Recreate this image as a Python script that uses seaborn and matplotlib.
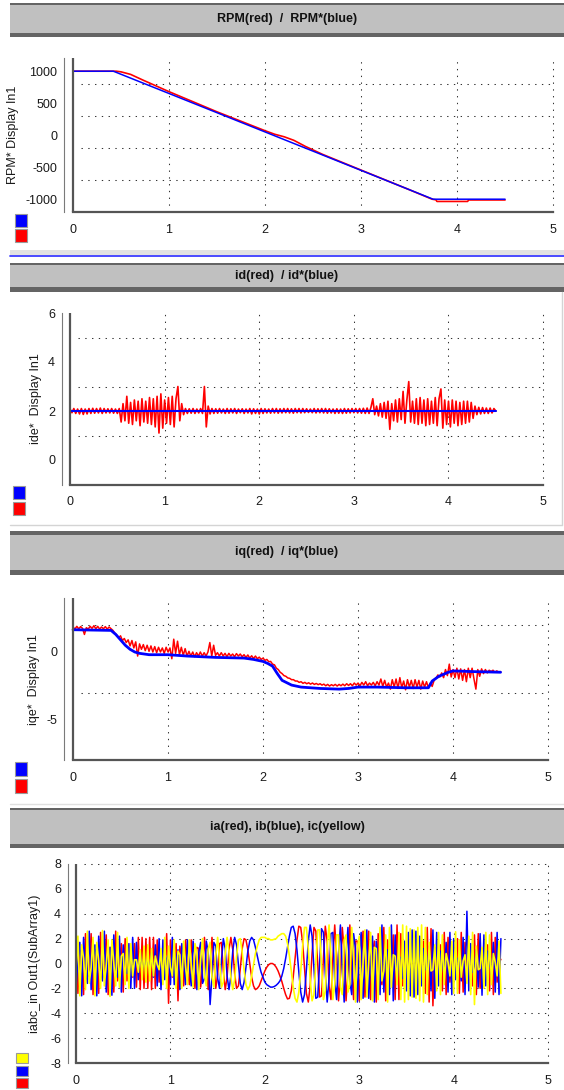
import numpy as np
import matplotlib
matplotlib.use("Agg")
import matplotlib.pyplot as plt
from matplotlib.patches import Rectangle
from matplotlib.lines import Line2D
from matplotlib.ticker import MultipleLocator, FixedLocator
import seaborn as sns

sns.set_style("white")
plt.rcParams["font.family"] = ["Liberation Sans", "DejaVu Sans"]
plt.rcParams["axes.unicode_minus"] = False

# ---------------- data ----------------
# Panel 1: speed (RPM measured red, RPM* reference blue)
rpm_ref_t = [0.0, 0.42, 3.75, 4.5]
rpm_ref_v = [1000, 1000, -1000, -1000]
rpm_t = [0.0, 0.45, 0.5, 0.6, 0.73, 0.85, 1.0, 1.5, 2.0, 2.1, 2.2, 2.3, 2.42, 2.6,
         3.0, 3.5, 3.74, 3.78, 3.79, 4.11, 4.12, 4.5]
rpm_v = [1000, 1000, 990, 950, 860, 780, 680, 365, 70, 15, -25, -80, -175, -300,
         -545, -850, -1000, -1010, -1035, -1035, -1012, -1012]

# sampled signals: one value every sample_dt seconds starting at t = 0
sample_dt = 0.02

# Panel 2: d-axis current
id_ref_t = [0.0, 4.5]
id_ref_v = [2.0, 2.0]
id_meas = [
    2.08, 1.93, 2.1, 1.9, 2.08, 1.88, 2.1, 1.86, 2.08, 1.88,
    2.1, 1.9, 2.11, 1.91, 2.1, 1.92, 2.12, 1.9, 2.1, 1.92,
    2.09, 1.92, 2.1, 1.91, 2.08, 1.9, 2.1, 1.55, 2.3, 1.6,
    2.6, 1.5, 2.35, 1.45, 2.45, 1.6, 2.4, 1.4, 2.5, 1.55,
    2.4, 1.5, 2.55, 1.45, 2.5, 1.35, 2.6, 1.1, 2.7, 1.3,
    2.45, 1.5, 2.55, 1.45, 2.6, 1.35, 2.5, 3.0, 1.6, 2.3,
    1.85, 2.1, 1.9, 2.09, 1.91, 2.1, 1.9, 2.08, 1.92, 2.1,
    1.9, 3.0, 1.35, 2.2, 1.88, 2.1, 1.9, 2.09, 1.91, 2.1,
    1.92, 2.08, 1.9, 2.1, 1.91, 2.09, 1.92, 2.1, 1.9, 2.08,
    1.93, 2.09, 1.9, 2.08, 1.92, 2.1, 1.88, 2.09, 1.9, 2.08,
    1.88, 2.1, 1.9, 2.09, 1.92, 2.08, 1.91, 2.1, 1.92, 2.1,
    1.91, 2.09, 1.92, 2.1, 1.93, 2.1, 1.92, 2.09, 1.91, 2.1,
    1.93, 2.1, 1.92, 2.1, 1.93, 2.09, 1.94, 2.08, 1.93, 2.1,
    1.92, 2.09, 1.93, 2.1, 1.92, 2.1, 1.91, 2.09, 1.92, 2.08,
    1.9, 2.09, 1.91, 2.08, 1.9, 2.1, 1.91, 2.09, 1.92, 2.1,
    1.93, 2.1, 1.92, 2.1, 1.91, 2.11, 1.9, 2.12, 1.9, 2.14,
    2.5, 1.85, 2.2, 1.8, 2.3, 1.75, 2.35, 1.7, 2.4, 1.25,
    2.3, 1.6, 2.45, 1.55, 2.5, 1.65, 2.8, 1.5, 2.45, 3.2,
    1.55, 2.4, 1.5, 2.5, 1.45, 2.55, 1.5, 2.45, 1.4, 2.5,
    1.45, 2.4, 1.5, 2.55, 1.4, 2.5, 2.9, 1.3, 2.45, 1.45,
    2.4, 1.35, 2.45, 1.5, 2.4, 1.4, 2.35, 1.45, 2.4, 1.5,
    2.4, 1.55, 2.35, 1.7, 2.2, 1.85, 2.15, 1.88, 2.14, 1.9,
    2.12, 1.9, 2.12, 1.92, 2.1, 2.0,
]

# Panel 3: q-axis current
iq_ref_t = [0.0, 0.4, 0.45, 0.5, 0.55, 0.6, 0.65, 0.7, 0.8, 1.0, 1.2, 1.5, 1.8, 1.9,
            2.0, 2.05, 2.1, 2.15, 2.2, 2.3, 2.4, 2.6, 2.8, 2.9, 3.0, 3.2, 3.5, 3.74,
            3.78, 3.85, 3.95, 4.0, 4.2, 4.5]
iq_ref_v = [1.65, 1.6, 1.3, 0.9, 0.5, 0.2, 0.0, -0.1, -0.2, -0.2, -0.3, -0.4, -0.45, -0.55,
            -0.7, -0.85, -1.05, -1.6, -2.1, -2.45, -2.6, -2.7, -2.75, -2.7, -2.6, -2.6, -2.65, -2.65,
            -2.15, -1.8, -1.5, -1.4, -1.45, -1.5]
iq_meas = [
    1.85, 1.7, 1.9, 1.72, 1.88, 1.75, 1.3, 1.8, 1.7, 1.9,
    1.75, 1.95, 1.72, 1.9, 1.7, 1.85, 1.72, 1.88, 1.7, 1.85,
    1.72, 1.6, 1.4, 1.25, 1.05, 1.2, 0.85, 1.0, 0.7, 0.9,
    0.45, 0.85, 0.3, 0.75, -0.3, 0.6, 0.2, 0.55, 0.1, 0.5,
    0.05, 0.45, 0.0, 0.4, -0.05, 0.35, 0.0, 0.3, -0.1, 0.35,
    0.0, 0.3, -0.5, 0.95, -0.1, 0.8, -0.2, 0.35, -0.25, 0.25,
    -0.3, 0.05, -0.3, 0.0, -0.35, -0.05, -0.3, 0.0, -0.3, -0.05,
    -0.3, 0.0, 0.7, -0.3, 0.5, -0.25, -0.05, -0.3, -0.05, -0.3,
    -0.1, -0.35, -0.1, -0.3, -0.15, -0.35, -0.12, -0.3, -0.15, -0.35,
    -0.2, -0.4, -0.22, -0.45, -0.28, -0.48, -0.3, -0.5, -0.38, -0.55,
    -0.45, -0.62, -0.55, -0.72, -0.7, -0.9, -0.95, -1.2, -1.3, -1.5,
    -1.6, -1.75, -1.8, -1.92, -1.95, -2.05, -2.05, -2.15, -2.15, -2.25,
    -2.2, -2.32, -2.25, -2.35, -2.28, -2.38, -2.3, -2.4, -2.33, -2.42,
    -2.35, -2.45, -2.38, -2.5, -2.4, -2.52, -2.42, -2.5, -2.4, -2.52,
    -2.4, -2.5, -2.38, -2.5, -2.35, -2.48, -2.35, -2.5, -2.3, -2.45,
    -2.3, -2.5, -2.25, -2.45, -2.2, -2.5, -2.3, -2.45, -2.25, -2.5,
    -2.2, -2.45, -2.0, -2.55, -2.1, -2.6, -2.3, -2.75, -2.05, -2.6,
    -2.0, -2.7, -1.9, -2.65, -2.15, -2.8, -2.05, -2.6, -2.1, -2.7,
    -2.05, -2.6, -2.1, -2.75, -2.15, -2.6, -2.2, -2.65, -2.3, -2.55,
    -2.1, -1.95, -1.7, -1.85, -1.55, -1.9, -1.3, -1.75, -0.9, -1.85,
    -1.3, -1.9, -1.2, -2.0, -1.25, -2.1, -1.3, -2.2, -1.2, -1.9,
    -1.2, -2.0, -2.75, -1.3, -1.8, -1.25, -1.6, -1.3, -1.55, -1.35,
    -1.45, -1.35, -1.5, -1.4, -1.5, -1.45,
]

# Panel 4: phase currents ia (red), ib (blue), ic (yellow)
ia = [
    2.5, -2.4, 0.9, 1.1, -2.5, 2.4, -1.0, -1.0, 2.4, -2.5,
    1.1, 0.9, -2.4, 2.5, -1.2, -0.8, 2.3, -2.5, 1.3, 0.7,
    -2.3, 2.6, -1.4, -0.3, 1.6, -2.3, 2.0, -1.4, 0.4, 0.4,
    -1.1, 1.6, -1.9, 2.1, -2.1, 2.1, -2.0, 2.0, -2.0, 2.1,
    -2.1, 2.1, -2.0, 1.9, -1.5, 0.9, -0.1, -0.8, 2.4, -3.2,
    1.9, -1.1, -0.3, 1.6, -3.0, 1.4, 0.3, -1.8, 1.9, -0.3,
    -1.7, 1.9, 0.1, -2.0, 1.3, 1.2, -1.9, -0.4, 2.1, 0.0,
    -2.1, 0.1, 2.1, 0.2, -2.0, -0.9, 1.6, 1.7, -0.6, -2.1,
    -1.1, 1.1, 2.1, 1.1, -0.8, -2.0, -1.8, -0.4, 1.2, 2.0,
    1.9, 1.1, 0.0, -1.1, -1.8, -2.1, -2.0, -1.8, -1.4, -1.0,
    -0.6, -0.3, -0.1, 0.0, 0.0, -0.1, -0.3, -0.6, -1.0, -1.45,
    -2.0, -2.5, -2.85, -2.8, -2.2, -1.1, 0.4, 1.9, 3.0, 2.9,
    1.7, -0.4, -2.4, -3.1, -1.8, 0.8, 2.9, 2.6, 0.0, -2.7,
    -2.6, 0.4, 3.0, 1.8, -1.8, -2.9, 0.4, 3.1, 0.6, -3.0,
    -1.1, 2.9, 1.1, -3.0, -0.6, 3.1, -0.4, -2.9, 1.8, 1.8,
    -3.0, 0.4, 2.6, -2.7, 0.0, 2.6, -2.9, 0.8, 1.8, -3.1,
    2.4, -0.4, -1.7, 2.9, -3.0, 1.9, -0.4, -1.1, 2.3, -2.9,
    3.1, -2.9, 2.4, -1.8, 1.3, -0.8, 0.4, -0.1, 0.0, 0.0,
    0.1, -0.4, 0.8, -1.3, 1.8, -2.4, 2.9, -3.1, 2.8, -3.4,
    1.3, -0.3, -0.7, 1.5, -2.2, 2.5, -2.5, 2.1, -1.5, 0.6,
    0.3, -1.2, 2.0, -2.4, 2.5, -2.3, 1.7, -0.9, 0.0, 1.0,
    -1.8, 2.3, -2.5, 2.4, -2.0, 1.2, -0.3, -0.6, 1.5, -2.2,
    2.5, -2.5, 2.1, -1.5, 0.6, 0.3,
]
ib = [
    -2.0, 0.2, 1.7, -2.6, 2.1, -0.3, -1.6, 2.6, -2.1, 0.4,
    1.5, -2.6, 2.2, -0.5, -1.4, 2.6, -2.3, 0.6, 1.3, -2.55,
    2.3, -0.75, -1.1, 2.2, -2.3, 1.5, -0.3, -0.8, 1.6, -2.0,
    2.1, -2.0, 1.7, -1.3, 1.0, -0.8, 0.6, -0.5, 0.5, -0.6,
    0.9, -1.1, 1.5, -1.8, 2.0, -2.1, 1.9, -1.3, 0.4, 0.7,
    -1.7, 2.1, -1.7, 0.4, 1.1, -2.1, 1.6, 0.0, -1.7, 1.9,
    -0.2, -1.8, 1.8, 0.4, -2.1, 0.9, 1.7, -1.6, -1.2, 1.8,
    0.9, -3.3, -1.0, 1.7, 1.4, -1.2, -2.0, 0.2, 2.0, 1.2,
    -1.0, -2.1, -1.0, 1.0, 2.1, 1.5, -0.1, -1.6, -2.1, -1.5,
    -0.3, 1.0, 1.8, 2.1, 1.9, 1.3, 0.6, -0.1, -0.7, -1.1,
    -1.5, -1.7, -1.8, -1.9, -1.9, -1.85, -1.75, -1.6, -1.4, -1.0,
    -0.4, 0.4, 1.3, 2.2, 2.9, 3.0, 2.4, 1.1, -0.7, -2.3,
    -3.1, -2.5, -0.5, 1.8, 3.1, 2.2, -0.4, -2.8, -2.7, 0.0,
    2.8, 2.5, -0.8, -3.1, -1.2, 2.4, 2.5, -1.4, -2.9, 0.7,
    3.1, -0.4, -3.1, 0.7, 2.9, -1.4, -2.5, 2.4, 1.2, -3.1,
    0.8, 2.5, -2.8, 0.0, 2.7, -2.8, 0.4, 2.2, -3.1, 1.8,
    0.5, -2.5, 3.1, -2.3, 0.7, 1.1, -2.5, 3.1, -3.0, 2.3,
    -1.4, 0.4, 0.5, -1.2, 1.8, -2.2, 2.5, -2.6, 2.7, -2.7,
    2.6, -2.5, 2.2, -1.8, 1.2, -0.5, -0.4, 1.4, -2.2, 2.7,
    -2.8, 2.5, -1.8, 1.0, -0.1, -0.9, 1.7, -2.3, 2.5, -2.5,
    2.0, -1.3, 0.4, 0.5, -1.4, 2.1, -2.5, 4.2, -2.2, 1.6,
    -0.7, -0.2, 1.1, -1.9, 2.4, -2.55, 2.3, -1.8, 1.0, -0.1,
    -0.9, 1.7, -2.3, 2.5, -2.5, 2.0,
]
ic = [
    -0.5, 2.2, -2.6, 1.5, 0.4, -2.1, 2.6, -1.6, -0.3, 2.1,
    -2.6, 1.7, 0.2, -2.0, 2.65, -1.8, -0.1, 1.9, -2.65, 1.9,
    0.0, -1.8, 2.5, -1.9, 0.6, 0.8, -1.7, 2.1, -2.0, 1.6,
    -1.0, 0.3, 0.3, -0.7, 1.1, -1.3, 1.4, -1.5, 1.5, -1.4,
    1.2, -1.0, 0.6, -0.1, -0.5, 1.2, -1.7, 2.1, -2.0, 1.4,
    -0.3, -1.0, 1.9, -2.0, 1.0, 0.7, -2.0, 1.8, -0.2, -1.7,
    1.9, -0.1, -1.9, 1.6, 0.8, -2.1, 0.3, 2.0, -0.9, -1.8,
    1.2, 1.7, -1.1, -1.9, 0.6, 2.1, 0.3, -1.9, -1.5, 0.8,
    2.1, 1.0, -1.1, -2.1, -1.3, 0.5, 1.9, 2.0, 0.9, -0.5,
    -1.7, -2.1, -1.8, -1.0, -0.1, 0.8, 1.4, 1.9, 2.1, 2.1,
    2.1, 2.0, 2.0, 1.9, 1.9, 1.95, 2.0, 2.2, 2.3, 2.4,
    2.4, 2.2, 1.6, 0.6, -0.6, -1.9, -2.8, -3.1, -2.3, -0.6,
    1.4, 2.9, 2.9, 1.2, -1.3, -3.0, -2.5, 0.1, 2.7, 2.7,
    -0.1, -2.9, -2.2, 1.3, 3.1, 0.5, -2.9, -1.7, 2.3, 2.3,
    -1.9, -2.5, 1.9, 2.3, -2.3, -1.7, 2.9, 0.5, -3.1, 1.3,
    2.2, -2.9, 0.1, 2.7, -2.7, 0.1, 2.5, -3.0, 1.3, 1.2,
    -2.9, 2.9, -1.4, -0.6, 2.3, -3.1, 2.9, -1.9, 0.7, 0.6,
    -1.7, 2.5, -2.9, 3.1, -3.1, 3.0, -2.9, 2.8, -2.7, 2.7,
    -2.8, 2.9, -3.0, 3.1, -3.1, 2.9, -2.5, 1.7, -0.6, -0.5,
    1.5, -2.2, 2.5, -2.5, 2.3, -1.7, 0.8, 0.1, -1.0, 1.8,
    -2.4, 2.55, -2.4, 1.9, -1.1, 0.2, 0.7, -1.6, 2.2, -2.5,
    2.5, -3.3, 1.4, -0.5, -0.4, 1.3, -2.0, 2.5, -2.5, 2.3,
    -1.7, 0.8, 0.1, -1.0, 1.8, -2.4,
]

titles = ["RPM(red)  /  RPM*(blue)", "id(red)  / id*(blue)",
          "iq(red)  / iq*(blue)", "ia(red), ib(blue), ic(yellow)"]
ylabels = ["RPM* Display In1", "ide*  Display In1", "iqe*  Display In1",
           "iabc_in Out1(SubArray1)"]
x_ticks = [0, 1, 2, 3, 4, 5]

RED, BLUE, YEL = "#ff0000", "#0000ff", "#ffff00"

# ---------------- figure ----------------
W, H = 564, 1090
fig = plt.figure(figsize=(W / 100, H / 100), dpi=100)
fig.patch.set_facecolor("white")


def frect(x0, y0, x1, y1, color, ec="none", lw=0.0, z=1):
    fig.add_artist(Rectangle((x0 / W, 1 - y1 / H), (x1 - x0) / W, (y1 - y0) / H,
                             transform=fig.transFigure, facecolor=color,
                             edgecolor=ec, linewidth=lw, zorder=z))


def fline(x0, y0, x1, y1, color, lw):
    fig.add_artist(Line2D([x0 / W, x1 / W], [1 - y0 / H, 1 - y1 / H],
                          transform=fig.transFigure, color=color, linewidth=lw))


def title_bar(top, bottom, text, tt=2, tb=4):
    frect(10, top, W, bottom, "#c0c0c0")
    frect(10, top, W, top + tt, "#646464")
    frect(10, bottom - tb, W, bottom, "#646464")
    fig.text((10 + W) / 2 / W, 1 - ((top + tt + bottom - tb) / 2) / H, text,
             ha="center", va="center", fontsize=9, fontweight="bold", color="#111111")


def legend_squares(x0, y0, w, h, gap, colors):
    for i, c in enumerate(colors):
        yy = y0 + i * (h + gap)
        frect(x0, yy, x0 + w, yy + h, c, ec="#9a9a9a", lw=0.8, z=3)


GRID = dict(colors="#333333", linewidths=0.75, linestyles=[(0, (1.3, 5.2))], zorder=1)
AXC = "#555555"


def setup(ax, xlim, ylim, major_y, minor_step, grid_y, ylabel, lx, ly):
    ax.set_xlim(*xlim)
    ax.set_ylim(*ylim)
    ax.set_facecolor("none")
    ax.set_xlabel("")
    ax.set_ylabel("")
    for s in ("top", "right"):
        ax.spines[s].set_visible(False)
    ax.spines["bottom"].set_bounds(0, 5)
    ax.spines["bottom"].set_color(AXC)
    ax.spines["bottom"].set_linewidth(1.6)
    ax.spines["left"].set_color("#7a7a7a")
    ax.spines["left"].set_linewidth(0.8)
    ax.xaxis.set_major_locator(FixedLocator(x_ticks))
    ax.xaxis.set_minor_locator(FixedLocator([0.5, 1.5, 2.5, 3.5, 4.5]))
    ax.set_xticklabels([str(v) for v in x_ticks])
    ax.yaxis.set_major_locator(FixedLocator(major_y))
    ax.yaxis.set_minor_locator(MultipleLocator(minor_step))
    ax.set_yticklabels([str(v) for v in major_y])
    ax.tick_params(axis="x", which="both", direction="inout", length=5, width=1,
                   color="#333333", pad=6, labelsize=9, labelcolor="#1a1a1a")
    ax.tick_params(axis="y", which="both", direction="out", length=3.5, width=0.9,
                   color="#333333", pad=1.5, labelsize=9, labelcolor="#1a1a1a")
    ax.vlines(x_ticks[1:], ylim[0], ylim[1], clip_on=False, **GRID)
    ax.hlines(grid_y, 0.08, 5.0, clip_on=False, **GRID)
    ax.axvline(0, color=AXC, linewidth=1.6, zorder=5)
    fig.text(lx / W, 1 - ly / H, ylabel, rotation=90, ha="center", va="center",
             fontsize=9, color="#1a1a1a")


def add_axes(l, t, r, b):
    return fig.add_axes([l / W, 1 - b / H, (r - l) / W, (b - t) / H])


# ---- Panel 1 ----
title_bar(3, 37, titles[0], tt=1.5, tb=4)
ax1 = add_axes(64, 58.4, 555, 212)
sns.lineplot(x=rpm_t, y=rpm_v, color=RED, linewidth=1.2, estimator=None, ax=ax1, zorder=3)
sns.lineplot(x=rpm_ref_t, y=rpm_ref_v, color=BLUE, linewidth=1.1, estimator=None, ax=ax1, zorder=4)
setup(ax1, (-0.094, 5.02), (-1200, 1200), [-1000, -500, 0, 500, 1000], 250,
      [-700, -200, 300, 800], ylabels[0], 13, 135)
legend_squares(15, 214, 12, 13, 2, [BLUE, RED])

# separator between panel 1 and 2
frect(10, 250, W, 255, "#e2e2e2")
fline(10, 256.3, W, 256.3, "#3c3cff", 1.3)

# ---- Panel 2 ----
title_bar(263, 292, titles[1], tt=2, tb=5)
ax2 = add_axes(62, 313, 545, 484.5)
t_id = np.arange(len(id_meas)) * sample_dt
sns.lineplot(x=t_id, y=id_meas, color=RED, linewidth=1.2, estimator=None, ax=ax2, zorder=3)
sns.lineplot(x=id_ref_t, y=id_ref_v, color=BLUE, linewidth=1.5, estimator=None, ax=ax2, zorder=4)
setup(ax2, (-0.085, 5.02), (-1, 6), [0, 2, 4, 6], 1, [1, 3, 5], ylabels[1], 36, 399)
legend_squares(13, 486, 12, 13, 3, [BLUE, RED])
fline(562, 292, 562, 525, "#d4d4d4", 1.0)
fline(10, 525, 562, 525, "#d4d4d4", 1.0)

# ---- Panel 3 ----
title_bar(531, 575, titles[2], tt=4, tb=5)
ax3 = add_axes(64, 598, 550, 760)
t_iq = np.arange(len(iq_meas)) * sample_dt
sns.lineplot(x=t_iq, y=iq_meas, color=RED, linewidth=1.1, estimator=None, ax=ax3, zorder=3)
sns.lineplot(x=iq_ref_t, y=iq_ref_v, color=BLUE, linewidth=2.0, estimator=None, ax=ax3, zorder=4)
setup(ax3, (-0.095, 5.02), (-8, 4), [-5, 0], 2.5, [-3, 2], ylabels[2], 34.5, 680)
legend_squares(15, 762, 12, 14, 3, [BLUE, RED])

# separator
fline(10, 804, W, 804, "#e0e0e0", 1.0)

# ---- Panel 4 ----
title_bar(808, 848, titles[3], tt=2, tb=4)
ax4 = add_axes(68, 864, 550, 1063)
t_abc = np.arange(len(ia)) * sample_dt
sns.lineplot(x=t_abc, y=ia, color=RED, linewidth=1.1, estimator=None, ax=ax4, zorder=3)
sns.lineplot(x=t_abc, y=ib, color=BLUE, linewidth=1.1, estimator=None, ax=ax4, zorder=3)
sns.lineplot(x=t_abc, y=ic, color=YEL, linewidth=1.2, estimator=None, ax=ax4, zorder=3)
setup(ax4, (-0.085, 5.02), (-8, 8), [-8, -6, -4, -2, 0, 2, 4, 6, 8], 1,
      [-6, -4, -2, 0, 2, 4, 6, 8], ylabels[3], 35, 964)
legend_squares(16, 1053, 12, 10, 2.5, [YEL, BLUE, RED])

fig.savefig("out.png", dpi=100, facecolor="white")
